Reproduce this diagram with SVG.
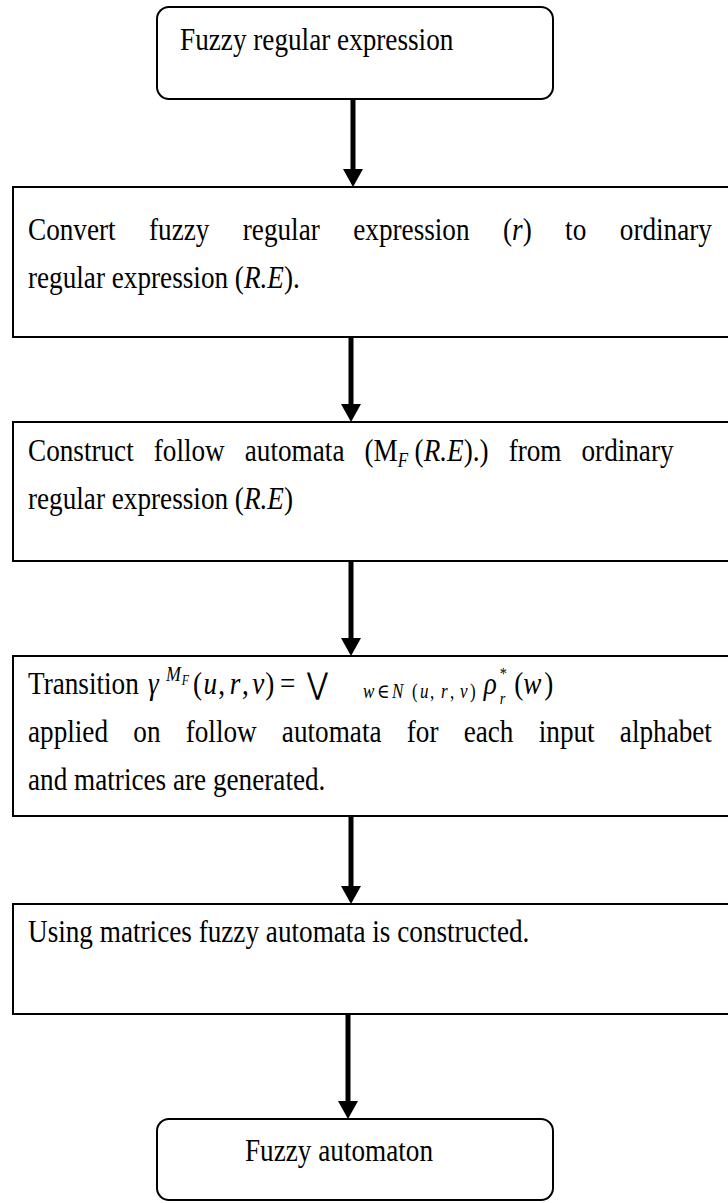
<svg xmlns="http://www.w3.org/2000/svg" width="728" height="1203" viewBox="0 0 728 1203">
  <style>
    .box { fill: #ffffff; stroke: #000000; stroke-width: 2; }
    .t { font-family: "Liberation Serif", "DejaVu Serif", "Times New Roman", serif; font-size: 32px; fill: #000000; }
    .i { font-style: italic; }
    .sm { font-size: 20px; }
    .op { font-family: "DejaVu Sans", "Liberation Sans", sans-serif; font-style: normal; font-size: 30px; }
    .shaft { stroke: #000000; stroke-width: 5; fill: none; marker-end: url(#head); }
  </style>
  <defs>
    <!-- filled arrowhead; the tip sits 18px past the end of the shaft -->
    <marker id="head" markerUnits="userSpaceOnUse" markerWidth="20" markerHeight="22" refX="0" refY="10" orient="auto" overflow="visible">
      <path d="M0,0 L18,10 L0,20 Z" fill="#000000"/>
    </marker>
  </defs>

  <rect width="728" height="1203" fill="#ffffff"/>

  <!-- connectors between the steps -->
  <g id="connectors">
    <line class="shaft" x1="353" y1="99" x2="353" y2="169"/>
    <line class="shaft" x1="351" y1="337" x2="351" y2="404"/>
    <line class="shaft" x1="351" y1="561" x2="351" y2="638"/>
    <line class="shaft" x1="351" y1="816" x2="351" y2="886"/>
    <line class="shaft" x1="348" y1="1014" x2="348" y2="1101"/>
  </g>

  <!-- node text is set in a narrow Times face: glyphs are squeezed to 85% width,
       so x values inside each text element are in the squeezed frame (x / 0.85) -->

  <!-- start -->
  <g id="start">
    <rect class="box" x="157" y="7" width="396" height="92" rx="12"/>
    <text class="t" transform="scale(0.85 1)" x="211.8" y="50">Fuzzy regular expression</text>
  </g>

  <!-- step 1 -->
  <g id="convert">
    <rect class="box" x="13" y="187" width="730" height="150"/>
    <text class="t" transform="scale(0.85 1)" y="240"><tspan x="32.94">Convert</tspan><tspan x="175.3">fuzzy</tspan><tspan x="285.6">regular</tspan><tspan x="415.6">expression</tspan><tspan x="591.8">(<tspan class="i">r</tspan>)</tspan><tspan x="664.8">to</tspan><tspan x="729.2">ordinary</tspan></text>
    <text class="t" transform="scale(0.85 1)" x="32.94" y="288">regular expression (<tspan class="i">R.E</tspan>).</text>
  </g>

  <!-- step 2 -->
  <g id="follow">
    <rect class="box" x="13" y="422" width="730" height="139"/>
    <text class="t" transform="scale(0.85 1)" y="461"><tspan x="32.94">Construct</tspan><tspan x="180.9">follow</tspan><tspan x="288">automata</tspan><tspan x="428.8">(M</tspan><tspan class="i sm" x="467.9" y="467">F</tspan><tspan x="487.8" y="461">(</tspan><tspan class="i">R.E</tspan><tspan>).)</tspan><tspan x="598.4">from</tspan><tspan x="684.1">ordinary</tspan></text>
    <text class="t" transform="scale(0.85 1)" x="32.94" y="509">regular expression (<tspan class="i">R.E</tspan>)</text>
  </g>

  <!-- step 3 -->
  <g id="transition">
    <rect class="box" x="13" y="656" width="730" height="160"/>
    <text class="t" transform="scale(0.85 1)" y="694"><tspan x="32.94">Transition</tspan><tspan class="i" x="174.2">γ</tspan><tspan class="i" x="195.2" y="681" font-size="21">M</tspan><tspan class="i" x="213.9" y="685" font-size="14">F</tspan><tspan x="227.2" y="694">(</tspan><tspan class="i" x="239.3">u</tspan><tspan x="256.9">,</tspan><tspan class="i" x="270.2">r</tspan><tspan x="284.6">,</tspan><tspan class="i" x="296.7">v</tspan><tspan x="312.1">)</tspan><tspan x="329.4">=</tspan><tspan class="op" x="361.2">⋁</tspan><tspan class="i sm" x="427.1" y="698">w</tspan><tspan class="sm" x="443.5">∈</tspan><tspan class="i sm" x="461.2">N</tspan><tspan class="sm" x="484.7">(</tspan><tspan class="i sm" x="494.1">u</tspan><tspan class="sm" x="505.9">,</tspan><tspan class="i sm" x="518.8">r</tspan><tspan class="sm" x="529.4">,</tspan><tspan class="i sm" x="541.2">v</tspan><tspan class="sm" x="552.9">)</tspan><tspan class="i" x="569" y="694">ρ</tspan><tspan x="588" y="679" font-size="17">*</tspan><tspan class="i" x="588" y="704" font-size="17">r</tspan><tspan x="605" y="694">(</tspan><tspan class="i" x="615.6">w</tspan><tspan x="640.3">)</tspan></text>
    <text class="t" transform="scale(0.85 1)" y="742"><tspan x="32.94">applied</tspan><tspan x="156.8">on</tspan><tspan x="218.5">follow</tspan><tspan x="331.6">automata</tspan><tspan x="478.6">for</tspan><tspan x="545.5">each</tspan><tspan x="633.8">input</tspan><tspan x="729.2">alphabet</tspan></text>
    <text class="t" transform="scale(0.85 1)" x="32.94" y="790">and matrices are generated.</text>
  </g>

  <!-- step 4 -->
  <g id="construct">
    <rect class="box" x="13" y="904" width="730" height="110"/>
    <text class="t" transform="scale(0.85 1)" x="32.94" y="942">Using matrices fuzzy automata is constructed.</text>
  </g>

  <!-- end -->
  <g id="end">
    <rect class="box" x="157" y="1119" width="396" height="81" rx="12"/>
    <text class="t" transform="scale(0.85 1)" x="288.2" y="1161">Fuzzy automaton</text>
  </g>
</svg>
